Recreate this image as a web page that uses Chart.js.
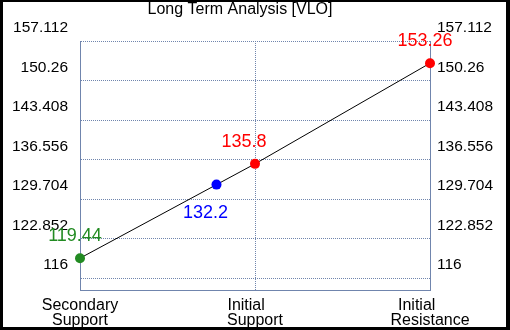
<!DOCTYPE html>
<html>
<head>
<meta charset="utf-8">
<script src="https://cdn.jsdelivr.net/npm/chart.js@4/dist/chart.umd.min.js"></script>
<style>
  html, body { margin: 0; padding: 0; background: #fff; }
  #wrap { width: 510px; height: 330px; }
</style>
</head>
<body>
<div id="wrap"><canvas id="chartLT" width="510" height="330"></canvas></div>
<script>
// 데이터
let pointNames   = ["Secondary Support", "Current", "Initial Support", "Initial Resistance"];
let pointX       = [0, 0.78, 1, 2];
let pointY       = [119.44, 132.2, 135.8, 153.26];
let pointColors  = ["#228b22", "#0000ff", "#ff0000", "#ff0000"];

let xTickVals    = [0, 1, 2];
let xTickLabels  = [["Secondary", "Support"], ["Initial    ", "Support"], ["Initial      ", "Resistance"]];

let yTickVals    = [116, 122.852, 129.704, 136.556, 143.408, 150.26, 157.112];
let yTickLabels  = ["116", "122.852", "129.704", "136.556", "143.408", "150.26", "157.112"];
let yMin = 113.92;
let yMax = 157.112;

// 라벨 위치 (스타일)
let labelDx = [-5, -11, -11, -5];
let labelDy = [-22, 28, -22, -22];

const gridColor = "#7085ad";
const yFont = { family: "'Liberation Sans', Arial, sans-serif", size: 15.5, lineHeight: 1 };
const xFont = { family: "'Liberation Sans', Arial, sans-serif", size: 16, lineHeight: 0.95 };

let chartData = [];
for (let i = 0; i < pointY.length; i++) {
    chartData.push({ x: pointX[i], y: pointY[i] });
}

// 제목 + 테두리
const framePlugin = {
    id: "framePlugin",
    beforeDraw(chart) {
        const c = chart.ctx;
        c.save();
        c.fillStyle = "#fff";
        c.fillRect(0, 0, chart.width, chart.height);
        c.restore();
    },
    afterDraw(chart) {
        const c = chart.ctx;
        c.save();
        c.fillStyle = "#000";
        c.font = "16px 'Liberation Sans', Arial, sans-serif";
        c.textAlign = "center";
        c.textBaseline = "middle";
        c.fillText("Long Term Analysis [VLO]", 240, 10);
        // 검은 테두리
        c.fillRect(0, 0, chart.width, 2);
        c.fillRect(0, 0, 3, chart.height);
        c.fillRect(chart.width - 4, 0, 4, chart.height);
        c.fillRect(0, chart.height - 3, chart.width, 3);
        c.restore();
    }
};

// 값 라벨
const valuePlugin = {
    id: "valuePlugin",
    afterDatasetsDraw(chart) {
        const c = chart.ctx;
        const meta = chart.getDatasetMeta(0);
        c.save();
        c.font = "18px 'Liberation Sans', Arial, sans-serif";
        c.textAlign = "center";
        c.textBaseline = "middle";
        meta.data.forEach((pt, i) => {
            c.fillStyle = pointColors[i];
            c.fillText(String(pointY[i]), pt.x + labelDx[i], pt.y + labelDy[i]);
        });
        c.restore();
    }
};

const ctxLT = document.getElementById("chartLT").getContext("2d");
const chartLT = new Chart(ctxLT, {
    type: "line",
    data: {
        datasets: [{
            label: "VLO",
            data: chartData,
            borderColor: "#000",
            borderWidth: 1,
            pointRadius: 5,
            pointHoverRadius: 5,
            pointBackgroundColor: pointColors,
            pointBorderColor: pointColors,
            pointBorderWidth: 0,
            tension: 0,
            clip: false
        }]
    },
    options: {
        responsive: false,
        animation: false,
        events: [],
        layout: { padding: { top: 41, left: 0, right: 0, bottom: 0 } },
        plugins: {
            legend: { display: false },
            title: { display: false },
            tooltip: { enabled: false }
        },
        scales: {
            x: {
                type: "linear",
                min: 0,
                max: 2,
                afterBuildTicks: (s) => { s.ticks = xTickVals.map(v => ({ value: v })); },
                afterFit: (s) => { s.height = 40; },
                grid: { color: gridColor, lineWidth: 1, drawTicks: false },
                border: { color: gridColor, width: 1, dash: [1, 1] },
                ticks: {
                    color: "#000",
                    font: xFont,
                    padding: 8,
                    maxRotation: 0,
                    autoSkip: false,
                    callback: (v, idx) => xTickLabels[idx]
                }
            },
            y: {
                position: "left",
                min: yMin,
                max: yMax,
                afterBuildTicks: (s) => { s.ticks = yTickVals.map(v => ({ value: v })); },
                afterFit: (s) => { s.width = 80; },
                grid: { color: gridColor, lineWidth: 1, drawTicks: false },
                border: { color: gridColor, width: 1, dash: [1, 1] },
                ticks: {
                    color: "#000",
                    font: yFont,
                    padding: 12,
                    labelOffset: -13,
                    autoSkip: false,
                    callback: (v, idx) => yTickLabels[idx]
                }
            },
            y2: {
                position: "right",
                min: yMin,
                max: yMax,
                afterBuildTicks: (s) => { s.ticks = yTickVals.map(v => ({ value: v })); },
                afterFit: (s) => { s.width = 80; },
                grid: { display: false, drawTicks: false },
                border: { color: gridColor, width: 1 },
                ticks: {
                    color: "#000",
                    font: yFont,
                    padding: 7,
                    labelOffset: -13,
                    autoSkip: false,
                    callback: (v, idx) => yTickLabels[idx]
                }
            }
        }
    },
    plugins: [framePlugin, valuePlugin]
});
</script>
</body>
</html>
